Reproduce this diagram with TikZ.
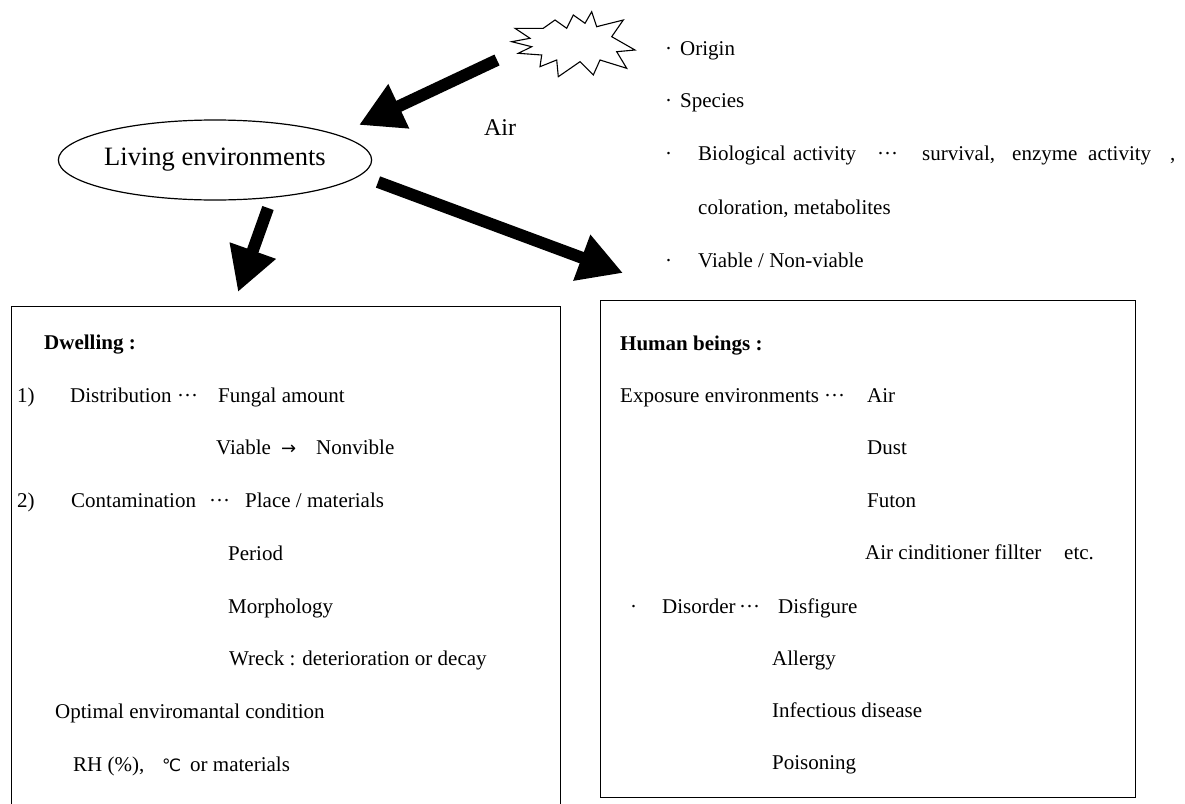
\documentclass[tikz,border=0pt]{standalone}
\usepackage{fontspec}
\setmainfont{Liberation Serif}
\newfontfamily\symfont{DejaVu Sans}
\usetikzlibrary{arrows.meta,shapes.geometric}
\begin{document}
\begin{tikzpicture}[x=1pt,y=-1pt,
  txt/.style={anchor=base west, inner sep=0pt, font=\fontsize{21}{25}\selectfont},
  btxt/.style={txt, font=\fontsize{21}{25}\selectfont\bfseries},
  bigarrow/.style={line width=12pt, -{Triangle[length=44pt,width=46pt]}},
  box/.style={draw, line width=1.4pt, anchor=north west, inner sep=0pt},
  burst/.style={draw, line width=1.1pt, line join=miter}]
\useasboundingbox (0,0) rectangle (1185,803);
\clip (0,0) rectangle (1185,803);
\fill[white] (0,0) rectangle (1185,803);

% starburst
\coordinate (burst) at (573,44);
\draw[burst] (511.7,41.7) -- (530,38.3) -- (515,28.3) -- (543.3,28.3) -- (555,20)
  -- (566.7,28.3) -- (573.3,15) -- (585,23.3) -- (591.7,11.7) -- (596.7,26.7)
  -- (623.3,20) -- (611.7,36.7) -- (635,50) -- (616.7,51.7) -- (626.7,68.3)
  -- (600,60) -- (593.3,75) -- (580,61.7) -- (558.3,76.7) -- (556.7,60)
  -- (540,66.7) -- (541.7,55) -- (518.3,53.3) -- (531.7,46.7) -- cycle;

% ellipse
\node[draw, ellipse, line width=1.2pt, minimum width=286pt, minimum height=80pt, inner sep=0pt,
      font=\fontsize{26.5}{30}\selectfont] (living) at (215,160) {Living environments};

\node[anchor=center, inner sep=0pt, font=\fontsize{24}{28}\selectfont] (air) at (500,128) {Air};

% boxes
\node[box, minimum width=549pt, minimum height=520pt] (dwell) at (11,306) {};
\node[box, minimum width=535pt, minimum height=497pt] (human) at (600,300) {};

% arrows
\coordinate (a1s) at (497,60);  \coordinate (a1e) at (359,125);
\coordinate (a2s) at (268,208); \coordinate (a2e) at (238,292);
\coordinate (a3s) at (378,182); \coordinate (a3e) at (623,273);
\draw[bigarrow] (a1s) -- (a1e);
\draw[bigarrow] (a2s) -- (a2e);
\draw[bigarrow] (a3s) -- (a3e);

% top-right list
\node[txt] (o1d) at (665,55) {·};
\node[txt] (o1) at (680,55) {Origin};
\node[txt] (o2d) at (665,107) {·};
\node[txt] (o2) at (680,107) {Species};
\node[txt] (o3d) at (665,160) {·};
\node[txt] (o3a) at (698,160) {Biological};
\node[txt] (o3b) at (793,160) {activity};
\node[txt] (o3c) at (877,160) {···};
\node[txt] (o3e) at (922,160) {survival,};
\node[txt] (o3f) at (1012,160) {enzyme};
\node[txt] (o3g) at (1088,160) {activity};
\node[txt] (o3h) at (1170,160) {,};
\node[txt] (o4) at (698,214) {coloration, metabolites};
\node[txt] (o5d) at (665,267) {·};
\node[txt] (o5) at (698,267) {Viable / Non-viable};

% left box text
\node[btxt] (d0) at (44,349) {Dwelling :};
\node[txt] (d1n) at (17,402) {1)};
\node[txt] (d1a) at (70,402) {Distribution};
\node[txt] (d1b) at (177,402) {···};
\node[txt] (d1c) at (218,402) {Fungal amount};
\node[txt] (d2a) at (216,454) {Viable};
\node[txt] (d2b) at (281,454) {{\symfont\fontsize{18}{20}\selectfont →}};
\node[txt] (d2c) at (316,454) {Nonvible};
\node[txt] (d3n) at (17,507) {2)};
\node[txt] (d3a) at (71,507) {Contamination};
\node[txt] (d3b) at (209,507) {···};
\node[txt] (d3c) at (245,507) {Place / materials};
\node[txt] (d4) at (228,560) {Period};
\node[txt] (d5) at (228,613) {Morphology};
\node[txt] (d6) at (229,665) {Wreck : deterioration or decay};
\node[txt] (d7) at (55,718) {Optimal enviromantal condition};
\node[txt] (d8a) at (73,771) {RH (\%),};
\node[txt] (d8b) at (162,771) {{\symfont\fontsize{17}{20}\selectfont ℃}};
\node[txt] (d8c) at (190,771) {or materials};

% right box text
\node[btxt] (h0) at (620,350) {Human beings :};
\node[txt] (h1a) at (620,402) {Exposure environments};
\node[txt] (h1b) at (824,402) {···};
\node[txt] (h1c) at (867,402) {Air};
\node[txt] (h2) at (867,454) {Dust};
\node[txt] (h3) at (867,507) {Futon};
\node[txt] (h4) at (865,559) {Air cinditioner fillter};
\node[txt] (h4b) at (1064,559) {etc.};
\node[txt] (h5d) at (630,613) {·};
\node[txt] (h5a) at (662,613) {Disorder};
\node[txt] (h5b) at (739,613) {···};
\node[txt] (h5c) at (778,613) {Disfigure};
\node[txt] (h6) at (772,665) {Allergy};
\node[txt] (h7) at (772,717) {Infectious disease};
\node[txt] (h8) at (772,769) {Poisoning};
\end{tikzpicture}
\end{document}
